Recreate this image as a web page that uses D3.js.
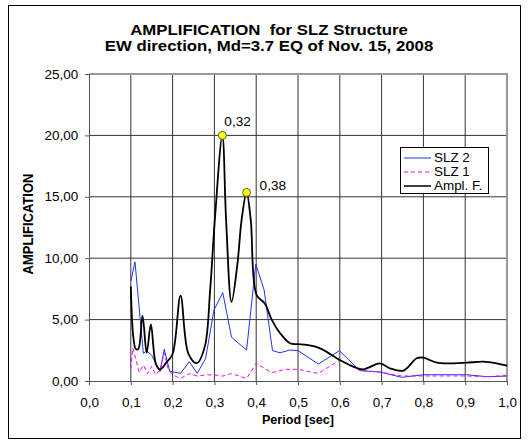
<!DOCTYPE html>
<html>
<head>
<meta charset="utf-8">
<script src="https://cdn.jsdelivr.net/npm/d3@7"></script>
<style>
body { margin: 0; background: #fff; }
svg { font-family: "Liberation Sans", Arial, sans-serif; }
text { white-space: pre; }
</style>
</head>
<body>
<svg width="529" height="444"></svg>
<script>
// series data
var amplPeriod = [0.100,0.106,0.112,0.118,0.128,0.138,0.148,0.160,0.170,0.185,0.200,0.219,0.238,0.258,0.277,0.290,0.301,0.319,0.328,0.341,0.355,0.365,0.377,0.387,0.401,0.421,0.437,0.457,0.481,0.500,0.521,0.553,0.600,0.632,0.656,0.696,0.720,0.752,0.784,0.800,0.832,0.872,0.904,0.943,0.975,1.000];
var amplValue  = [7.7,3.6,2.6,2.6,5.3,2.3,4.6,1.4,0.95,1.5,2.2,6.95,2.2,1.45,2.8,7.5,13.1,20.0,13.1,6.45,9.5,13.1,15.35,13.1,7.0,6.3,5.0,3.9,3.07,3.0,2.94,2.66,1.71,1.17,0.95,1.44,1.03,0.84,1.85,1.9,1.49,1.44,1.49,1.57,1.44,1.25];

var slz2Period = [0.100,0.110,0.130,0.138,0.150,0.170,0.180,0.193,0.219,0.240,0.259,0.279,0.299,0.320,0.341,0.377,0.399,0.419,0.439,0.457,0.480,0.500,0.549,0.599,0.648,0.696,0.748,0.800,0.904,0.952,1.000];
var slz2Value  = [8.1,9.7,2.25,2.45,2.1,0.76,2.58,0.8,0.62,1.57,0.62,1.85,5.78,7.2,3.56,2.52,9.53,7.4,2.47,2.3,2.52,2.47,1.38,2.47,0.84,0.73,0.3,0.51,0.51,0.35,0.4];

var slz1Period = [0.100,0.105,0.120,0.130,0.140,0.150,0.160,0.170,0.180,0.190,0.200,0.219,0.240,0.260,0.280,0.300,0.320,0.340,0.360,0.377,0.400,0.437,0.470,0.500,0.549,0.600,0.648,0.696,0.748,0.800,0.904,0.952,1.000];
var slz1Value  = [1.0,2.7,0.7,1.3,0.6,1.2,0.5,0.9,2.3,0.9,0.5,0.2,0.6,0.4,0.5,0.5,0.4,0.6,0.4,0.2,1.44,0.68,0.95,0.95,0.62,1.71,0.87,0.73,0.41,0.41,0.41,0.35,0.46];

var peakPeriod = [0.319, 0.377];
var peakValue  = [20.0, 15.35];
var peakLabel  = ["0,32", "0,38"];

var xTicks = [0,0.1,0.2,0.3,0.4,0.5,0.6,0.7,0.8,0.9,1.0];
var yTicks = [0,5,10,15,20,25];

var titleLines = ["AMPLIFICATION  for SLZ Structure", "EW direction, Md=3.7 EQ of Nov. 15, 2008"];

var svg = d3.select("svg");

var locale = d3.formatLocale({decimal: ",", thousands: ".", grouping: [3], currency: ["", ""]});
var fx = locale.format(".1f"),
    fy = locale.format(".2f");

var x = d3.scaleLinear().domain([0, 1]).range([89, 507]);
var y = d3.scaleLinear().domain([0, 25]).range([381, 74]);

// text that is a bit wider than the font, like in the picture
function wideText(parent, tx, ty, sx, str) {
    return parent.append("text")
        .attr("transform", "translate(" + tx + "," + ty + ") scale(" + sx + ",1)")
        .text(str);
}

// outer frame
svg.append("rect")
    .attr("x", 8.5).attr("y", 5.5)
    .attr("width", 512).attr("height", 433)
    .attr("fill", "none").attr("stroke", "#000");

// titles
titleLines.forEach(function(t, i) {
    wideText(svg, 269, 35 + i * 16, 1.2, t)
        .attr("text-anchor", "middle")
        .attr("font-size", 14).attr("font-weight", "bold");
});

// grid
var grid = svg.append("g");
grid.selectAll(".vg").data(xTicks.slice(1, -1)).enter()
    .append("line")
    .attr("x1", d => x(d)).attr("x2", d => x(d))
    .attr("y1", y(25)).attr("y2", y(0))
    .attr("stroke", "#333").attr("stroke-width", 1);
grid.selectAll(".hg").data(yTicks.slice(1, -1)).enter()
    .append("line")
    .attr("x1", x(0)).attr("x2", x(1))
    .attr("y1", d => y(d)).attr("y2", d => y(d))
    .attr("stroke", "#333").attr("stroke-width", 1);
// top and right borders of plot area
svg.append("path")
    .attr("d", "M" + x(0) + "," + y(25) + "H" + x(1) + "V" + y(0))
    .attr("fill", "none").attr("stroke", "#999").attr("stroke-width", 2);

// axes
var xAxis = svg.append("g")
    .attr("transform", "translate(0," + y(0) + ")")
    .call(d3.axisBottom(x).tickValues(xTicks).tickFormat(fx).tickSize(4).tickPadding(13));
var yAxis = svg.append("g")
    .attr("transform", "translate(" + x(0) + ",0)")
    .call(d3.axisLeft(y).tickValues(yTicks).tickFormat(fy).tickSize(4).tickPadding(6));
[xAxis, yAxis].forEach(function(a) {
    a.select(".domain").attr("stroke", "#555");
    a.selectAll(".tick line").attr("stroke", "#555");
    a.selectAll("text").attr("font-size", 12.5).attr("fill", "#000")
        .attr("font-family", "Liberation Sans, Arial, sans-serif")
        .attr("transform", "scale(1.08,1)");
});

wideText(svg, 298, 424, 1.05, "Period [sec]")
    .attr("text-anchor", "middle")
    .attr("font-size", 12).attr("font-weight", "bold");
svg.append("text")
    .attr("transform", "translate(33,224) rotate(-90) scale(1,1.15)")
    .attr("text-anchor", "middle")
    .attr("font-size", 13).attr("font-weight", "bold")
    .text("AMPLIFICATION");

// series
function pairs(px, py) { return px.map((p, i) => [p, py[i]]); }

var straight = d3.line().x(d => x(d[0])).y(d => y(d[1]));
var smooth = d3.line().x(d => x(d[0])).y(d => y(d[1])).curve(d3.curveCatmullRom.alpha(0.5));

svg.append("path")
    .datum(pairs(slz2Period, slz2Value))
    .attr("d", straight)
    .attr("fill", "none").attr("stroke", "#2233ee").attr("stroke-width", 1);

svg.append("path")
    .datum(pairs(slz1Period, slz1Value))
    .attr("d", straight)
    .attr("fill", "none").attr("stroke", "#ff00ff").attr("stroke-width", 1)
    .attr("stroke-dasharray", "4,3");

svg.append("path")
    .datum(pairs(amplPeriod, amplValue))
    .attr("d", smooth)
    .attr("fill", "none").attr("stroke", "#000").attr("stroke-width", 1.8);

// peak markers
var labelShift = [[2, -9], [13, -3]];
svg.selectAll(".peak").data(peakPeriod).enter()
    .append("circle")
    .attr("cx", d => x(d))
    .attr("cy", (d, i) => y(peakValue[i]))
    .attr("r", 4)
    .attr("fill", "#ffff00").attr("stroke", "#333").attr("stroke-width", 0.8);
peakLabel.forEach(function(l, i) {
    wideText(svg, x(peakPeriod[i]) + labelShift[i][0], y(peakValue[i]) + labelShift[i][1], 1.05, l)
        .attr("font-size", 13);
});

// legend
var legendNames = ["SLZ 2", "SLZ 1", "Ampl. F."];
var legendColors = ["#2233ee", "#ff00ff", "#000"];
var legendDash = [null, "4,3", null];
var lg = svg.append("g");
lg.append("rect")
    .attr("x", 400.5).attr("y", 147.5)
    .attr("width", 88).attr("height", 46)
    .attr("fill", "#fff").attr("stroke", "#000");
legendNames.forEach(function(n, i) {
    var ly = 158 + i * 14;
    lg.append("line")
        .attr("x1", 404).attr("x2", 431)
        .attr("y1", ly).attr("y2", ly)
        .attr("stroke", legendColors[i])
        .attr("stroke-width", i == 2 ? 1.5 : 1)
        .attr("stroke-dasharray", legendDash[i]);
    wideText(lg, 434, ly + 4, 1.12, n)
        .attr("font-size", 12);
});
</script>
</body>
</html>
